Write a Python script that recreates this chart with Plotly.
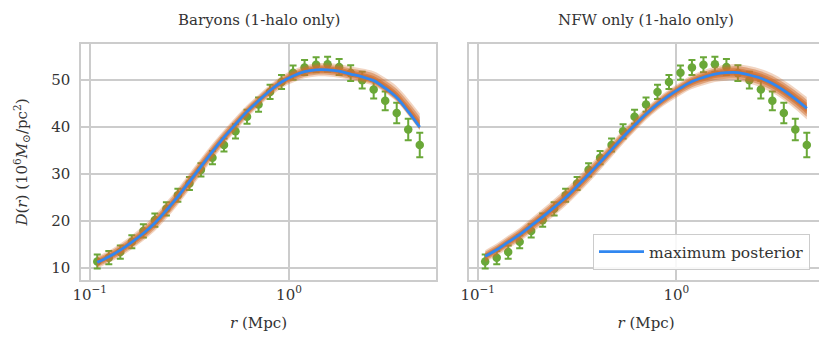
import plotly.graph_objects as go

# radial bins (Mpc)
r = [0.1091, 0.1247, 0.1424, 0.1627, 0.1859, 0.2123, 0.2425, 0.2770, 0.3165, 0.3615,
     0.4130, 0.4718, 0.5389, 0.6157, 0.7033, 0.8034, 0.9175, 1.048, 1.197, 1.368,
     1.562, 1.785, 2.039, 2.329, 2.660, 3.039, 3.471, 3.965, 4.530]

# measured D(r) and errors
D_obs = [11.4, 12.2, 13.4, 15.6, 17.9, 20.2, 22.6, 25.5, 28.0, 30.9,
         33.5, 36.2, 39.1, 42.2, 44.8, 47.5, 49.6, 51.6, 52.7, 53.3,
         53.4, 52.8, 51.5, 50.0, 48.0, 45.6, 43.0, 39.5, 36.2]
D_err = [1.5, 1.4, 1.4, 1.4, 1.4, 1.4, 1.4, 1.4, 1.4, 1.4,
         1.4, 1.4, 1.5, 1.5, 1.5, 1.5, 1.5, 1.5, 1.6, 1.6,
         1.6, 1.7, 1.7, 1.8, 1.9, 2.0, 2.2, 2.3, 2.6]

# maximum posterior models
baryon_max = [11.2, 12.4, 13.8, 15.5, 17.4, 19.6, 22.3, 25.2, 28.4, 31.6,
              34.8, 37.8, 40.6, 43.3, 45.6, 47.8, 49.6, 50.9, 51.8, 52.2,
              52.2, 51.9, 51.3, 50.7, 49.9, 48.3, 46.3, 43.3, 40.0]
nfw_max = [12.5, 13.9, 15.5, 17.1, 19.0, 20.9, 22.9, 25.0, 27.4, 29.9,
           32.5, 35.2, 37.9, 40.4, 42.8, 44.9, 46.7, 48.3, 49.7, 50.6,
           51.3, 51.6, 51.6, 51.1, 50.4, 49.3, 47.8, 46.0, 44.0]

# posterior sample spread above / below the max posterior curve
baryon_up = [1.3, 1.3, 1.4, 1.5, 1.6, 1.7, 1.8, 1.8, 1.8, 1.8,
             1.7, 1.6, 1.5, 1.4, 1.3, 1.3, 1.3, 1.3, 1.3, 1.4,
             1.4, 1.5, 1.6, 1.8, 2.0, 2.2, 2.4, 2.7, 2.9]
baryon_dn = [1.3, 1.3, 1.4, 1.5, 1.6, 1.7, 1.8, 1.8, 1.8, 1.8,
             1.7, 1.6, 1.5, 1.4, 1.3, 1.3, 1.3, 1.4, 1.4, 1.4,
             1.4, 1.4, 1.3, 1.2, 1.1, 1.0, 0.9, 0.8, 0.7]
nfw_up = [1.3, 1.3, 1.4, 1.5, 1.6, 1.7, 1.8, 1.8, 1.8, 1.8,
          1.7, 1.6, 1.5, 1.4, 1.3, 1.3, 1.3, 1.3, 1.4, 1.5,
          1.6, 1.7, 1.8, 1.9, 2.0, 2.1, 2.2, 2.3, 2.4]
nfw_dn = [1.3, 1.3, 1.4, 1.5, 1.6, 1.7, 1.8, 1.8, 1.8, 1.8,
          1.7, 1.6, 1.5, 1.4, 1.3, 1.3, 1.4, 1.5, 1.6, 1.7,
          1.7, 1.7, 1.7, 1.8, 1.9, 2.0, 2.1, 2.2, 2.4]

titles = ["Baryons (1-halo only)", "NFW only (1-halo only)"]

GREEN = "#6aa838"
BLUE = "#3187f0"
TXT = "#333333"
GRID = "#cccccc"
FONT = "DejaVu Serif"

fig = go.Figure()


def add_panel(fig, model, up, dn, xa, ya, legend):
    # data points sit under the posterior band
    fig.add_trace(go.Scatter(
        x=r, y=D_obs, mode="markers", xaxis=xa, yaxis=ya,
        marker=dict(color=GREEN, size=8.5),
        error_y=dict(type="data", array=D_err, color=GREEN, thickness=2, width=3.5),
        showlegend=False, hoverinfo="skip"))
    # posterior band, a few nested layers so the edges fade out
    for f, a in [(1.0, 0.3), (0.75, 0.5), (0.5, 0.65), (0.3, 0.75)]:
        lo = [m - f * d for m, d in zip(model, dn)]
        hi = [m + f * u for m, u in zip(model, up)]
        fig.add_trace(go.Scatter(x=r, y=lo, mode="lines", line=dict(width=0, shape="spline"),
                                 xaxis=xa, yaxis=ya, showlegend=False, hoverinfo="skip"))
        fig.add_trace(go.Scatter(x=r, y=hi, mode="lines", line=dict(width=0, shape="spline"),
                                 fill="tonexty", fillcolor=f"rgba(208,112,50,{a})",
                                 xaxis=xa, yaxis=ya, showlegend=False, hoverinfo="skip"))
    fig.add_trace(go.Scatter(
        x=r, y=model, mode="lines", xaxis=xa, yaxis=ya,
        line=dict(color=BLUE, width=2.8, shape="spline"),
        name="maximum posterior", showlegend=legend))


add_panel(fig, baryon_max, baryon_up, baryon_dn, "x", "y", False)
add_panel(fig, nfw_max, nfw_up, nfw_dn, "x2", "y2", True)

W, H = 827, 343
xd1 = [73 / W, 428 / W]
xd2 = [461 / W, 815 / W]
yd = [1 - 272 / H, 1 - 36 / H]

xcommon = dict(type="log", range=[-1.0437, 0.7376],
               tickvals=[0.1, 1], ticktext=["10<sup>\u22121</sup>", "10<sup>0</sup>"],
               showgrid=True, gridcolor=GRID, gridwidth=1.5,
               showline=True, linecolor=GRID, linewidth=1.5, mirror=True,
               ticks="", zeroline=False,
               tickfont=dict(size=15, color=TXT, family=FONT),
               title=dict(text="<i>r</i> (Mpc)", font=dict(size=15, color=TXT, family=FONT), standoff=15),
               automargin=False)
ycommon = dict(range=[7.45, 57.7], tickvals=[10, 20, 30, 40, 50], domain=yd,
               showgrid=True, gridcolor=GRID, gridwidth=1.5,
               showline=True, linecolor=GRID, linewidth=1.5, mirror=True,
               ticks="", zeroline=False,
               tickfont=dict(size=15, color=TXT, family=FONT),
               automargin=False)

fig.update_layout(
    width=W, height=H,
    margin=dict(l=0, r=0, t=0, b=0),
    paper_bgcolor="white", plot_bgcolor="white",
    font=dict(family=FONT, color=TXT, size=15),
    xaxis=dict(domain=xd1, anchor="y", **xcommon),
    xaxis2=dict(domain=xd2, anchor="y2", **xcommon),
    yaxis=dict(anchor="x", ticklabelstandoff=6,
               title=dict(text="<i>D</i>(<i>r</i>) (10<sup>6</sup><i>M</i><sub>\u2299</sub>/pc<sup>2</sup>)",
                          font=dict(size=15, color=TXT, family=FONT), standoff=20),
               **ycommon),
    yaxis2=dict(anchor="x2", showticklabels=False, **ycommon),
    legend=dict(x=802 / W, y=1 - 262 / H, xanchor="right", yanchor="bottom",
                bgcolor="rgba(255,255,255,0.85)", bordercolor=GRID, borderwidth=1,
                itemwidth=45, font=dict(size=15.5, color=TXT, family=FONT)),
    showlegend=True,
)

for t, xd in zip(titles, [xd1, xd2]):
    fig.add_annotation(text=t, x=(xd[0] + xd[1]) / 2, y=1 - 12 / H, xref="paper", yref="paper",
                       showarrow=False, font=dict(size=15, color=TXT, family=FONT),
                       xanchor="center", yanchor="middle")

fig.write_html("out.html")
